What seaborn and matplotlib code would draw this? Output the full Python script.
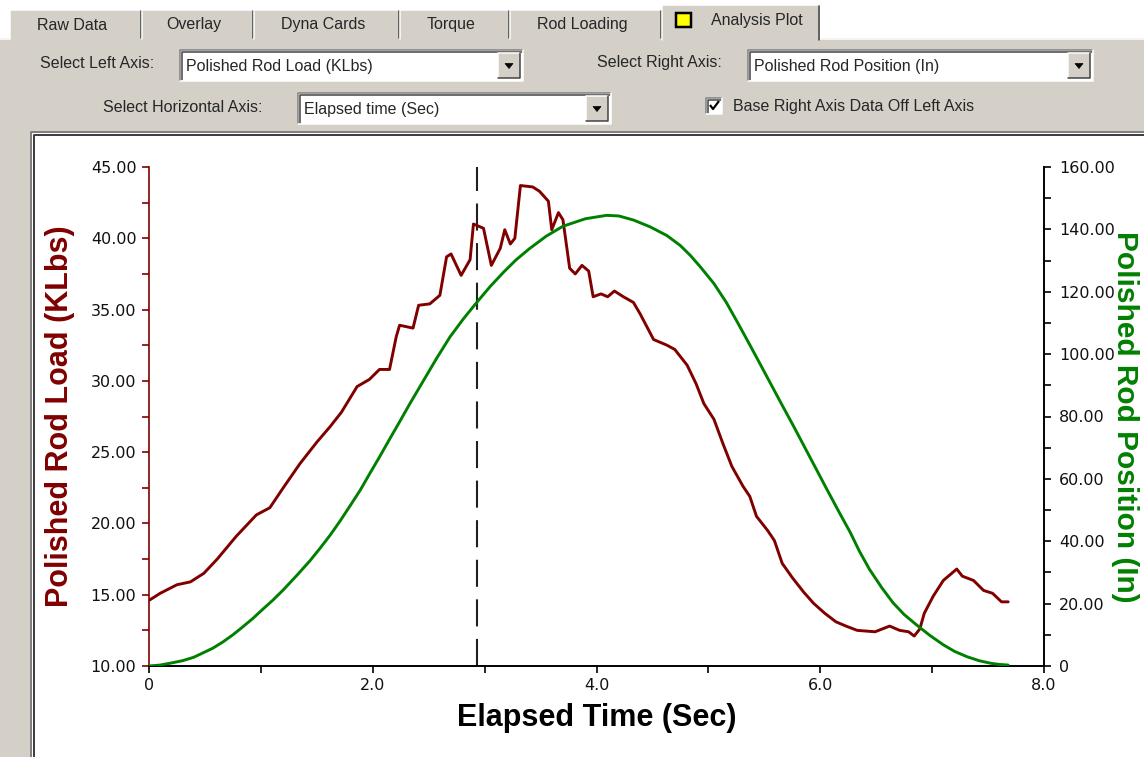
import numpy as np
import pandas as pd
import matplotlib
matplotlib.use("Agg")
import matplotlib.pyplot as plt
from matplotlib.patches import Rectangle, Polygon
from matplotlib.ticker import MultipleLocator, FixedLocator, FuncFormatter
import seaborn as sns

# values
load_time = [0.00, 0.10, 0.25, 0.37, 0.49, 0.61, 0.78, 0.96, 1.08, 1.20, 1.35, 1.50,
             1.62, 1.72, 1.86, 1.97, 2.06, 2.15, 2.21, 2.24, 2.36, 2.41, 2.51, 2.60,
             2.66, 2.70, 2.79, 2.87, 2.90, 2.99, 3.06, 3.14, 3.18, 3.23, 3.27, 3.32,
             3.43, 3.49, 3.57, 3.60, 3.66, 3.70, 3.76, 3.81, 3.87, 3.93, 3.97, 4.04,
             4.10, 4.16, 4.24, 4.33, 4.39, 4.45, 4.51, 4.63, 4.70, 4.81, 4.89, 4.96,
             5.05, 5.13, 5.21, 5.31, 5.37, 5.43, 5.53, 5.59, 5.66, 5.75, 5.85, 5.94,
             6.04, 6.14, 6.23, 6.33, 6.49, 6.62, 6.71, 6.79, 6.84, 6.89, 6.93, 7.01,
             7.10, 7.16, 7.22, 7.27, 7.37, 7.46, 7.54, 7.62, 7.68]
load_klbs = [14.6, 15.1, 15.7, 15.9, 16.5, 17.5, 19.1, 20.6, 21.1, 22.5, 24.2, 25.7,
             26.8, 27.8, 29.6, 30.1, 30.8, 30.8, 33.1, 33.9, 33.7, 35.3, 35.4, 36.0,
             38.7, 38.9, 37.4, 38.5, 41.0, 40.7, 38.1, 39.3, 40.6, 39.6, 40.0, 43.7,
             43.6, 43.3, 42.6, 40.6, 41.8, 41.3, 37.9, 37.5, 38.1, 37.7, 35.9, 36.1,
             35.9, 36.3, 35.9, 35.5, 34.7, 33.8, 32.9, 32.5, 32.2, 31.1, 29.8, 28.4,
             27.3, 25.6, 24.0, 22.6, 21.9, 20.5, 19.5, 18.8, 17.2, 16.2, 15.2, 14.4,
             13.7, 13.1, 12.8, 12.5, 12.4, 12.8, 12.5, 12.4, 12.1, 12.6, 13.7, 14.9,
             16.0, 16.4, 16.8, 16.3, 16.0, 15.3, 15.1, 14.5, 14.5]

pos_time = [0.00, 0.10, 0.19, 0.30, 0.40, 0.50, 0.57, 0.66, 0.75, 0.84, 0.93, 1.02,
            1.11, 1.20, 1.32, 1.44, 1.53, 1.62, 1.71, 1.80, 1.89, 1.97, 2.06, 2.15,
            2.24, 2.33, 2.45, 2.57, 2.69, 2.81, 2.93, 3.05, 3.17, 3.28, 3.40, 3.55,
            3.70, 3.90, 4.09, 4.20, 4.33, 4.48, 4.63, 4.75, 4.84, 4.93, 5.05, 5.16,
            5.26, 5.37, 5.46, 5.56, 5.66, 5.76, 5.86, 5.96, 6.06, 6.16, 6.27, 6.35,
            6.44, 6.55, 6.65, 6.75, 6.86, 6.98, 7.10, 7.20, 7.31, 7.42, 7.52, 7.60,
            7.68]
pos_in = [0.0, 0.3, 0.9, 1.7, 2.8, 4.5, 5.7, 7.7, 10.0, 12.6, 15.3, 18.3,
          21.2, 24.4, 29.0, 33.8, 37.8, 42.0, 46.6, 51.5, 56.5, 61.5, 67.0, 72.7,
          78.3, 84.0, 91.3, 98.6, 105.5, 111.3, 116.6, 121.7, 126.3, 130.2, 133.8, 137.8,
          141.0, 143.4, 144.5, 144.3, 143.0, 140.8, 138.0, 134.8, 131.6, 127.9, 122.6, 116.6,
          110.2, 103.0, 97.0, 90.3, 83.6, 77.0, 70.2, 63.4, 56.6, 49.9, 42.7, 36.8,
          31.0, 25.1, 20.3, 16.5, 13.2, 9.8, 6.8, 4.7, 3.0, 1.7, 0.9, 0.5,
          0.3]

cursor_time = 2.93

x_ticks = [0, 2, 4, 6, 8]
x_tick_labels = ["0", "2.0", "4.0", "6.0", "8.0"]
left_ticks = [10, 15, 20, 25, 30, 35, 40, 45]
right_ticks = [0, 20, 40, 60, 80, 100, 120, 140, 160]

tab_names = ["Raw Data", "Overlay", "Dyna Cards", "Torque", "Rod Loading", "Analysis Plot"]
left_axis_choice = "Polished Rod Load (KLbs)"
right_axis_choice = "Polished Rod Position (In)"
horiz_axis_choice = "Elapsed time (Sec)"

load_df = pd.DataFrame({"time": load_time, "load": load_klbs})
pos_df = pd.DataFrame({"time": pos_time, "pos": pos_in})

RED = "#800000"
GREEN = "#008000"
GRAY = "#d4d0c8"

sns.set_theme(style="white")
plt.rcParams["font.family"] = ["Liberation Sans", "DejaVu Sans"]

W, H = 1144, 757
fig = plt.figure(figsize=(W / 100, H / 100), dpi=100)
fig.patch.set_facecolor("white")

# window chrome drawn in pixel coordinates
ui = fig.add_axes([0, 0, 1, 1])
ui.set_xlim(0, W)
ui.set_ylim(H, 0)
ui.axis("off")

px = 0.72  # one pixel in points


def sunken(x0, y0, x1, y1):
    ui.plot([x0, x0, x1], [y1, y0, y0], color="#808080", lw=1.5 * px, solid_capstyle="butt")
    ui.plot([x0 + 1.5, x0 + 1.5, x1 - 1.5], [y1 - 1.5, y0 + 1.5, y0 + 1.5], color="#404040", lw=1.5 * px)
    ui.plot([x0, x1, x1], [y1, y1, y0], color="white", lw=1.5 * px)


def raised(x0, y0, x1, y1):
    ui.add_patch(Rectangle((x0, y0), x1 - x0, y1 - y0, facecolor=GRAY, edgecolor="none"))
    ui.plot([x0, x0, x1], [y1, y0, y0], color="white", lw=1.5 * px)
    ui.plot([x0, x1, x1], [y1, y1, y0], color="#404040", lw=1.5 * px)


# tab page body
ui.add_patch(Rectangle((0, 38), W, H - 38, facecolor=GRAY, edgecolor="none"))
ui.plot([0, W], [38.5, 38.5], color="white", lw=1.5 * px)

# tabs
tab_edges = [10, 142, 254, 400, 510, 662, 820]
for i, name in enumerate(tab_names):
    x0, x1 = tab_edges[i], tab_edges[i + 1]
    sel = name == "Analysis Plot"
    y0 = 5 if sel else 10
    ui.add_patch(Rectangle((x0, y0), x1 - x0, 40 - y0, facecolor=GRAY, edgecolor="none", zorder=2))
    ui.plot([x0, x0, x1 - 2], [39 if not sel else 40, y0, y0], color="white", lw=1.5 * px, zorder=3)
    ui.plot([x1 - 1, x1 - 1], [y0 + 1, 38 if not sel else 40], color="#404040", lw=1.5 * px, zorder=3)
    if sel:
        ui.add_patch(Rectangle((676, 13), 15, 14, facecolor="#ffff00", edgecolor="black", lw=2.5 * px, zorder=4))
        ui.text(757, 21, name, ha="center", va="center", fontsize=11.5, zorder=4)
    else:
        ui.text((x0 + x1) / 2 - 4, 25, name, ha="center", va="center", fontsize=11.5, zorder=4)


def combo(x0, y0, x1, y1, text):
    ui.add_patch(Rectangle((x0, y0), x1 - x0, y1 - y0, facecolor="white", edgecolor="none"))
    sunken(x0, y0, x1, y1)
    bx0, bx1 = x1 - 25, x1 - 3
    raised(bx0, y0 + 3, bx1, y1 - 3)
    cx, cy = (bx0 + bx1) / 2, (y0 + y1) / 2
    ui.add_patch(Polygon([(cx - 4, cy - 2), (cx + 4, cy - 2), (cx, cy + 3)], closed=True,
                         facecolor="black", edgecolor="black", lw=0.5))
    ui.text(x0 + 6, (y0 + y1) / 2 + 1, text, ha="left", va="center", fontsize=11.5)


ui.text(40, 63, "Select Left Axis:", ha="left", va="center", fontsize=11.5)
combo(180, 50, 523, 81, left_axis_choice)
ui.text(597, 63, "Select Right Axis:", ha="left", va="center", fontsize=11.5)
combo(748, 50, 1093, 81, right_axis_choice)
ui.text(103, 108, "Select Horizontal Axis:", ha="left", va="center", fontsize=11.5)
combo(298, 93, 611, 124, horiz_axis_choice)

# checkbox
ui.add_patch(Rectangle((706, 98), 16, 16, facecolor="white", edgecolor="none"))
sunken(706, 98, 722, 114)
ui.plot([710, 713, 719], [105, 109, 101], color="black", lw=2.2 * px, solid_capstyle="butt")
ui.text(733, 107, "Base Right Axis Data Off Left Axis", ha="left", va="center", fontsize=11.5)

# plot panel
ui.add_patch(Rectangle((32, 133), W - 32, H - 133, facecolor="white", edgecolor="none"))
ui.plot([31, 31, W], [H, 132, 132], color="#808080", lw=2 * px)
ui.plot([33.5, 33.5, W], [H, 134.5, 134.5], color="#404040", lw=2 * px)

# chart
ax = fig.add_axes([149 / W, (H - 666) / H, (1044 - 149) / W, (666 - 167) / H])
ax.patch.set_alpha(0)
ax2 = ax.twinx()
ax2.patch.set_alpha(0)

ax.axvline(cursor_time, color="#202020", lw=1.5, dashes=(13, 6), zorder=1)
sns.lineplot(data=load_df, x="time", y="load", ax=ax, color=RED, lw=2.1, zorder=3)
sns.lineplot(data=pos_df, x="time", y="pos", ax=ax2, color=GREEN, lw=2.1, zorder=3)

ax.set_xlim(0, 8)
ax.set_ylim(10, 45)
ax2.set_ylim(0, 160)

ax.xaxis.set_major_locator(FixedLocator(x_ticks))
ax.set_xticklabels(x_tick_labels)
ax.xaxis.set_minor_locator(MultipleLocator(1))
ax.yaxis.set_major_locator(FixedLocator(left_ticks))
ax.yaxis.set_minor_locator(MultipleLocator(2.5))
ax.yaxis.set_major_formatter(FuncFormatter(lambda v, p: f"{v:.2f}"))
ax2.yaxis.set_major_locator(FixedLocator(right_ticks))
ax2.yaxis.set_minor_locator(MultipleLocator(10))
ax2.yaxis.set_major_formatter(FuncFormatter(lambda v, p: "0" if v == 0 else f"{v:.2f}"))

for a in (ax, ax2):
    for s in a.spines.values():
        s.set_visible(False)
ax.spines["left"].set_visible(True)
ax.spines["left"].set_color(RED)
ax.spines["left"].set_linewidth(1.2)
ax.spines["bottom"].set_visible(True)
ax.spines["bottom"].set_color("black")
ax.spines["bottom"].set_linewidth(1.4)
ax2.spines["right"].set_visible(True)
ax2.spines["right"].set_color("black")
ax2.spines["right"].set_linewidth(1.4)

ax.tick_params(axis="y", which="both", direction="out", length=5, width=1.2, color=RED,
               labelcolor="#111111", pad=4, left=True)
ax.tick_params(axis="x", which="both", direction="out", length=5, width=1.2, color="black",
               labelcolor="#111111", pad=4, bottom=True)
ax2.tick_params(axis="y", which="both", direction="out", length=5, width=1.2, color="black",
                labelcolor="#111111", pad=6, right=True)
for lab in ax.get_xticklabels() + ax.get_yticklabels() + ax2.get_yticklabels():
    lab.set_fontfamily("DejaVu Sans")
    lab.set_fontsize(11.5)

ax.set_xlabel("Elapsed Time (Sec)", fontsize=22, fontweight="bold", color="black", va="center")
ax.xaxis.set_label_coords(0.5, -(718 - 666) / 499)
ax.set_ylabel("Polished Rod Load (KLbs)", fontsize=22, fontweight="bold", color=RED, va="center")
ax.yaxis.set_label_coords((60 - 149) / 895, 0.5)
ax2.set_ylabel("Polished Rod Position (In)", fontsize=21.5, fontweight="bold", color=GREEN,
               rotation=270, va="center")
ax2.yaxis.set_label_coords((1125 - 149) / 895, 0.5)

fig.savefig("out.png", dpi=100)
